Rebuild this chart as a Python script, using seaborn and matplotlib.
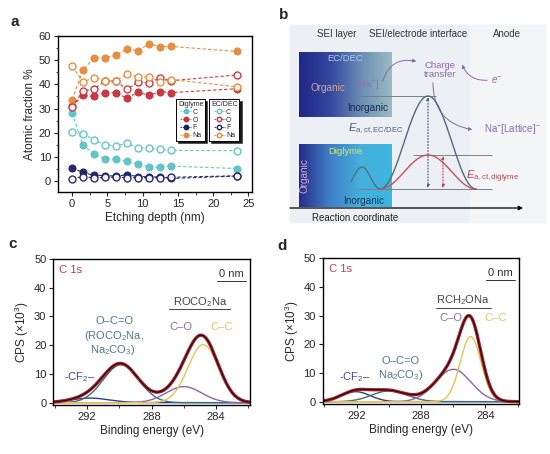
import numpy as np
import matplotlib
matplotlib.use("Agg")
import matplotlib.pyplot as plt
from matplotlib.lines import Line2D
from matplotlib.colors import LinearSegmentedColormap
from matplotlib.ticker import AutoMinorLocator, MultipleLocator
import seaborn as sns

sns.set_theme(style="ticks")
plt.rcParams['font.family'] = ['Liberation Sans', 'DejaVu Sans']
plt.rcParams['mathtext.fontset'] = 'custom'
plt.rcParams['mathtext.rm'] = 'Liberation Sans'
plt.rcParams['mathtext.it'] = 'Liberation Sans:italic'

# ---- panel a : atomic fraction vs etching depth ----
depth = [0, 1.55, 3.1, 4.65, 6.2, 7.8, 9.35, 10.9, 12.45, 14.0, 23.4]
elements = ['C', 'O', 'F', 'Na']
elem_colors = ['#5cc3c6', '#c8313b', '#1e2163', '#e58a3a']

dig_C = [28.1, 14.8, 11.3, 9.3, 9.0, 8.2, 7.2, 5.8, 5.8, 6.2, 5.2]
dig_O = [31.0, 35.4, 35.0, 36.6, 36.5, 34.3, 36.8, 35.4, 37.0, 36.6, 38.2]
dig_F = [5.4, 3.6, 2.4, 2.3, 2.1, 2.6, 1.9, 1.8, 1.7, 1.1, 2.1]
dig_Na = [33.7, 46.0, 51.0, 51.0, 52.0, 54.6, 53.9, 56.8, 55.6, 55.7, 53.6]

ec_C = [20.3, 19.6, 17.1, 15.0, 14.6, 15.6, 13.7, 13.7, 13.1, 12.7, 12.6]
ec_O = [30.6, 37.3, 38.0, 41.5, 41.3, 38.0, 41.0, 40.6, 42.8, 41.5, 43.9]
ec_F = [1.0, 1.9, 1.3, 1.5, 1.6, 1.4, 1.4, 1.4, 1.4, 1.6, 2.2]
ec_Na = [47.5, 41.0, 42.8, 41.5, 41.5, 44.2, 43.0, 43.0, 41.0, 42.0, 39.0]

diglyme_series = [dig_C, dig_O, dig_F, dig_Na]
ecdec_series = [ec_C, ec_O, ec_F, ec_Na]

# ---- panels c, d : C 1s peak fits (centre eV, height x10^3, width eV) ----
comp_names = ['CF2', 'OCO', 'CO', 'CC']
comp_colors = ['#2d3f88', '#3f6f78', '#8a68a8', '#ecc150']
c_centers = [291.8, 289.9, 286.0, 284.8]
c_heights = [1.6, 13.2, 5.6, 20.2]
c_widths = [1.2, 1.1, 1.1, 0.95]
d_centers = [292.05, 289.95, 286.0, 284.92]
d_heights = [3.5, 3.8, 11.3, 22.7]
d_widths = [0.9, 1.1, 1.1, 0.65]

fig = plt.figure(figsize=(5.5, 4.54), dpi=100)

lab_fs = 8.5
tick_fs = 8
ann_fs = 8


def style_axes(ax):
    for s in ax.spines.values():
        s.set_linewidth(1.0)
        s.set_color('black')
    ax.tick_params(direction='out', length=3, width=0.8, labelsize=tick_fs, pad=2)
    ax.tick_params(which='minor', direction='out', length=1.8, width=0.6)


# ================= panel a =================
ax = fig.add_axes([58 / 550, 1 - 192 / 454, 194 / 550, 156 / 454])
for vals, col in zip(diglyme_series, elem_colors):
    sns.lineplot(x=depth, y=vals, ax=ax, color=col, marker='o', markersize=5,
                 markeredgecolor=col, markerfacecolor=col, markeredgewidth=0.8,
                 linestyle=(0, (3, 2)), linewidth=0.8, alpha=0.95)
for vals, col in zip(ecdec_series, elem_colors):
    sns.lineplot(x=depth, y=vals, ax=ax, color=col, marker='o', markersize=5,
                 markeredgecolor=col, markerfacecolor='white', markeredgewidth=1.0,
                 linestyle=(0, (3, 2)), linewidth=0.8, alpha=0.95)
ax.set_xlim(-2, 25.5)
ax.set_ylim(-4.5, 60)
ax.xaxis.set_major_locator(MultipleLocator(5))
ax.yaxis.set_major_locator(MultipleLocator(10))
ax.xaxis.set_minor_locator(AutoMinorLocator(2))
ax.yaxis.set_minor_locator(AutoMinorLocator(2))
ax.set_xlabel('Etching depth (nm)', fontsize=lab_fs, labelpad=2)
ax.set_ylabel('Atomic fraction %', fontsize=lab_fs, labelpad=2)
style_axes(ax)

leg_kw = dict(loc='upper left', fontsize=5, title_fontsize=5, frameon=True,
              fancybox=False, edgecolor='black', handlelength=1.6, handletextpad=0.2,
              borderpad=0.25, labelspacing=0.12, borderaxespad=0,
              shadow={'facecolor': 'black', 'alpha': 0.9, 'ox': 1.5, 'oy': -1.5})
h1 = [Line2D([], [], color=c, marker='o', ms=3.2, mfc=c, ls=(0, (2, 1)), lw=0.6) for c in elem_colors]
h2 = [Line2D([], [], color=c, marker='o', ms=3.2, mfc='white', ls=(0, (2, 1)), lw=0.6) for c in elem_colors]
leg1 = ax.legend(h1, elements, title='Diglyme', bbox_to_anchor=(0.61, 0.595), **leg_kw)
leg1.get_frame().set_linewidth(0.7)
ax.add_artist(leg1)
leg2 = ax.legend(h2, elements, title='EC/DEC', bbox_to_anchor=(0.78, 0.595), **leg_kw)
leg2.get_frame().set_linewidth(0.7)

# ================= panel b (schematic) =================
bx = fig.add_axes([285 / 550, 1 - 225 / 454, 265 / 550, 210 / 454])
bx.set_xlim(285, 550)
bx.set_ylim(225, 15)
bx.axis('off')
bx.add_patch(plt.Rectangle((290, 25), 255, 197, color='#eceff4', zorder=0))
bx.add_patch(plt.Rectangle((470, 25), 75, 197, color='#f4f5f7', zorder=0))

grad = np.linspace(0, 1, 256)[None, :]
top_cmap = LinearSegmentedColormap.from_list('top', ['#1f2786', '#34479f', '#6a8db4', '#9abcc0'])
bot_cmap = LinearSegmentedColormap.from_list('bot', ['#262c8a', '#3f7fc8', '#45b0dc', '#3cb6e0'])
bx.imshow(grad, extent=(299, 392, 117, 52), cmap=top_cmap, aspect='auto', zorder=1)
bx.imshow(grad, extent=(299, 392, 207, 145), cmap=bot_cmap, aspect='auto', zorder=1)

fs_b = 7
bx.text(337, 34, 'SEI layer', fontsize=fs_b, ha='center', va='center', color='#333333')
bx.text(418, 34, 'SEI/electrode interface', fontsize=fs_b, ha='center', va='center', color='#333333')
bx.text(507, 34, 'Anode', fontsize=fs_b, ha='center', va='center', color='#333333')
bx.text(345, 59, 'EC/DEC', fontsize=6.8, ha='center', va='center', color='#a9c9ec', zorder=3)
bx.text(328, 88, 'Organic', fontsize=7.2, ha='center', va='center', color='#d9a59c', zorder=3)
bx.text(368, 85, '[Na$^{+}$]', fontsize=6.8, ha='center', va='center', color='#9070b0', zorder=3)
bx.text(368, 108, 'Inorganic', fontsize=7.2, ha='center', va='center', color='#1b2754', zorder=3)
bx.text(345, 152, 'Diglyme', fontsize=6.8, ha='center', va='center', color='#d8e86a', zorder=3)
bx.text(304, 176, 'Organic', fontsize=7.2, ha='center', va='center', color='#d6aec8',
        rotation=90, zorder=3)
bx.text(364, 201, 'Inorganic', fontsize=7.2, ha='center', va='center', color='#173a58', zorder=3)

# energy profile
xw = np.linspace(351, 380, 60)
bx.plot(xw, 178 - 11 * np.cos(2 * np.pi * (xw - 362) / 36), color='#55707e', lw=1.0, zorder=4)
xb = np.linspace(380, 476, 200)
bump = (1 - np.cos(2 * np.pi * (xb - 380) / 96)) / 2
bx.plot(xb, 189 - 93 * bump, color='#4f6d7c', lw=1.0, zorder=4)
bx.plot(xb, 189 - 34 * bump, color='#c0555a', lw=1.0, zorder=4)
bx.hlines(96, 358, 436, color='#7a8088', lw=0.7, zorder=3)
bx.hlines(155, 413, 492, color='#7a8088', lw=0.7, zorder=3)
bx.hlines(189, 358, 492, color='#7a8088', lw=0.7, zorder=3)
bx.annotate('', xy=(428, 97), xytext=(428, 188),
            arrowprops=dict(arrowstyle='<|-|>', ls=':', color='#3e5f80', lw=0.8,
                            mutation_scale=4, shrinkA=0, shrinkB=0), zorder=5)
bx.annotate('', xy=(443, 156), xytext=(443, 188),
            arrowprops=dict(arrowstyle='<|-|>', ls=':', color='#c04048', lw=0.8,
                            mutation_scale=4, shrinkA=0, shrinkB=0), zorder=5)
bx.annotate('', xy=(523, 208), xytext=(290, 208),
            arrowprops=dict(arrowstyle='-|>', color='black', lw=0.9, mutation_scale=6,
                            shrinkA=0, shrinkB=0), zorder=5)
bx.text(312, 218, 'Reaction coordinate', fontsize=fs_b, ha='left', va='center', color='#222222')
bx.text(376, 129, r'$E_{\mathrm{a,ct,EC/DEC}}$', fontsize=8, ha='center', va='center',
        color='#45627a')
bx.text(493, 177, r'$E_{\mathrm{a,ct,diglyme}}$', fontsize=8, ha='center', va='center',
        color='#c04048')
bx.text(440, 70, 'Charge\ntransfer', fontsize=6.8, ha='center', va='center', color='#8a6aae',
        linespacing=1.0)
bx.text(497, 81, '$e^{-}$', fontsize=7, ha='center', va='center', color='#8a6aae')
bx.text(512, 130, 'Na$^{+}$[Lattice]$^{-}$', fontsize=7, ha='center', va='center',
        color='#8a6aae')
arrow_kw = dict(arrowstyle='-|>', color='#8a6aae', lw=0.7, mutation_scale=5)
bx.annotate('', xy=(419, 62), xytext=(382, 84),
            arrowprops=dict(connectionstyle='arc3,rad=-0.5', **arrow_kw))
bx.annotate('', xy=(461, 62), xytext=(490, 80),
            arrowprops=dict(connectionstyle='arc3,rad=-0.4', **arrow_kw))
bx.annotate('', xy=(475, 130), xytext=(433, 80),
            arrowprops=dict(connectionstyle='arc3,rad=0.45', **arrow_kw))

# ================= panels c, d =================
energy = np.linspace(281.9, 294.1, 500)


def gauss(e, c0, h, w):
    return h * np.exp(-(e - c0) ** 2 / (2 * w ** 2))


def xps_panel(rect, centers, heights, widths):
    axp = fig.add_axes(rect)
    total = np.zeros_like(energy)
    for c0, h, w, col in zip(centers, heights, widths, comp_colors):
        y = gauss(energy, c0, h, w)
        total += y
        sns.lineplot(x=energy, y=y, ax=axp, color=col, lw=1.0, sort=False)
    sns.lineplot(x=energy, y=total, ax=axp, color='#a3222e', lw=2.4, sort=False)
    sns.lineplot(x=energy, y=total, ax=axp, color='black', lw=0.6, sort=False)
    axp.set_xlim(294.1, 281.9)
    axp.set_ylim(-0.8, 50)
    axp.xaxis.set_major_locator(MultipleLocator(4))
    axp.xaxis.set_minor_locator(MultipleLocator(2))
    axp.yaxis.set_major_locator(MultipleLocator(10))
    axp.set_xlabel('Binding energy (eV)', fontsize=lab_fs, labelpad=2)
    axp.set_ylabel('CPS (×10$^{3}$)', fontsize=lab_fs, labelpad=2)
    style_axes(axp)
    axp.text(0.03, 0.925, 'C 1s', transform=axp.transAxes, fontsize=ann_fs, color='#c43a4a',
             ha='left', va='center')
    axp.text(0.905, 0.9, '0 nm', transform=axp.transAxes, fontsize=ann_fs, color='#333333',
             ha='center', va='center')
    axp.plot([0.83, 0.98], [0.852, 0.852], transform=axp.transAxes, color='#333333', lw=0.7)
    return axp


axc = xps_panel([53.3 / 550, 1 - 405 / 454, 196.7 / 550, 146 / 454], c_centers, c_heights, c_widths)
axc.text(0.745, 0.705, 'ROCO$_2$Na', transform=axc.transAxes, fontsize=ann_fs, color='#444444',
         ha='center', va='center')
axc.plot([0.59, 0.9], [0.655, 0.655], transform=axc.transAxes, color='#444444', lw=0.7)
axc.text(0.65, 0.535, 'C–O', transform=axc.transAxes, fontsize=ann_fs, color='#8a70a8',
         ha='center', va='center')
axc.text(0.855, 0.535, 'C–C', transform=axc.transAxes, fontsize=ann_fs, color='#e8c060',
         ha='center', va='center')
axc.text(0.31, 0.575, 'O–C=O', transform=axc.transAxes, fontsize=ann_fs, color='#4e7a88',
         ha='center', va='center')
axc.text(0.31, 0.475, '(ROCO$_2$Na,', transform=axc.transAxes, fontsize=ann_fs, color='#4e7a88',
         ha='center', va='center')
axc.text(0.30, 0.38, 'Na$_2$CO$_3$)', transform=axc.transAxes, fontsize=ann_fs, color='#4e7a88',
         ha='center', va='center')
axc.text(0.135, 0.19, '-CF$_2$–', transform=axc.transAxes, fontsize=ann_fs, color='#3a4a90',
         ha='center', va='center')

axd = xps_panel([322.7 / 550, 1 - 404 / 454, 196.6 / 550, 145.7 / 454], d_centers, d_heights, d_widths)
axd.text(0.715, 0.71, 'RCH$_2$ONa', transform=axd.transAxes, fontsize=ann_fs, color='#444444',
         ha='center', va='center')
axd.plot([0.575, 0.855], [0.66, 0.66], transform=axd.transAxes, color='#444444', lw=0.7)
axd.text(0.65, 0.59, 'C–O', transform=axd.transAxes, fontsize=ann_fs, color='#8a70a8',
         ha='center', va='center')
axd.text(0.88, 0.59, 'C–C', transform=axd.transAxes, fontsize=ann_fs, color='#e8c060',
         ha='center', va='center')
axd.text(0.395, 0.295, 'O–C=O', transform=axd.transAxes, fontsize=ann_fs, color='#4e7a88',
         ha='center', va='center')
axd.text(0.395, 0.2, 'Na$_2$CO$_3$)', transform=axd.transAxes, fontsize=ann_fs, color='#4e7a88',
         ha='center', va='center')
axd.text(0.165, 0.185, '-CF$_2$–', transform=axd.transAxes, fontsize=ann_fs, color='#3a4a90',
         ha='center', va='center')

# panel letters
for lbl, (px, py) in zip(['a', 'b', 'c', 'd'], [(15, 22), (284, 15), (13, 244), (282, 246)]):
    fig.text(px / 550, 1 - py / 454, lbl, fontsize=11, fontweight='bold', ha='center', va='center')

fig.savefig('out.png', dpi=100)
